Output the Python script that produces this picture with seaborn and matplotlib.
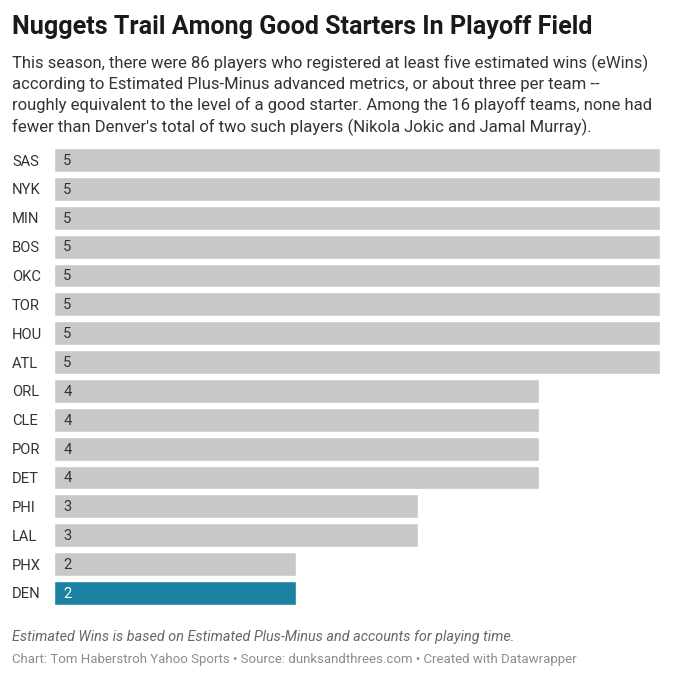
import matplotlib
matplotlib.use("Agg")
import matplotlib.pyplot as plt
import seaborn as sns
import pandas as pd

teams = ["SAS", "NYK", "MIN", "BOS", "OKC", "TOR", "HOU", "ATL",
         "ORL", "CLE", "POR", "DET", "PHI", "LAL", "PHX", "DEN"]
ewins_players = [5, 5, 5, 5, 5, 5, 5, 5, 4, 4, 4, 4, 3, 3, 2, 2]

df = pd.DataFrame({"team": teams, "players": ewins_players})

sns.set_theme(style="white")
plt.rcParams["font.family"] = ["Roboto", "DejaVu Sans"]

grey = "#c8c8c8"
blue = "#1d81a2"
palette = [blue if t == "DEN" else grey for t in teams]

fig = plt.figure(figsize=(6.74, 6.80), dpi=100)
ax = fig.add_axes([54 / 674, 1 - 607.4 / 680, 606 / 674, (607.4 - 145.6) / 680])

sns.barplot(data=df, x="players", y="team", hue="team", palette=palette,
            legend=False, width=0.83, ax=ax, saturation=1)

ax.set_xlim(0, 5)
ax.set_ylim(15.5, -0.5)
ax.set_xlabel("")
ax.set_ylabel("")
ax.set_xticks([])
# labels left-aligned at x=12px: pad of 42px in points
ax.tick_params(axis="y", length=0, pad=42 * 0.72, labelsize=10.6, labelcolor="#333333")
for lab in ax.get_yticklabels():
    lab.set_horizontalalignment("left")
for s in ax.spines.values():
    s.set_visible(False)

for i, (t, v) in enumerate(zip(teams, ewins_players)):
    ax.text(0.075, i + 0.03, str(v), va="center", ha="left", fontsize=10.6,
            color="white" if t == "DEN" else "#333333")

fig.text(12 / 674, 1 - 27 / 680, "Nuggets Trail Among Good Starters In Playoff Field",
         fontsize=18.1, fontweight="bold", color="#1a1a1a", va="center", ha="left")
subtitle = ("This season, there were 86 players who registered at least five estimated wins (eWins)\n"
            "according to Estimated Plus-Minus advanced metrics, or about three per team --\n"
            "roughly equivalent to the level of a good starter. Among the 16 playoff teams, none had\n"
            "fewer than Denver's total of two such players (Nikola Jokic and Jamal Murray).")
fig.text(12 / 674, 1 - 55 / 680, subtitle, fontsize=12.0, color="#333333",
         va="top", ha="left", linespacing=1.4)

fig.text(12 / 674, 1 - 637 / 680,
         "Estimated Wins is based on Estimated Plus-Minus and accounts for playing time.",
         fontsize=10.35, style="italic", color="#666666", va="center", ha="left")
fig.text(12 / 674, 1 - 660 / 680,
         "Chart: Tom Haberstroh Yahoo Sports \u2022 Source: dunksandthrees.com \u2022 Created with Datawrapper",
         fontsize=9.55, color="#8c8c8c", va="center", ha="left")

fig.savefig("out.png", dpi=100, facecolor="white")
